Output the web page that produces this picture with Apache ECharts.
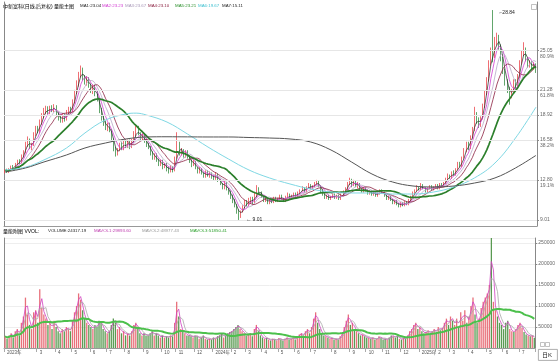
<!DOCTYPE html>
<html><head><meta charset="utf-8">
<script src="https://cdn.jsdelivr.net/npm/echarts@6/dist/echarts.min.js"></script>
<style>html,body{margin:0;padding:0;background:#fff}#c{width:558px;height:361px}</style>
</head><body><div id="c"></div>
<script>
const opens=[13.50,13.75,13.50,13.80,14.10,13.85,14.30,14.60,14.40,15.00,
15.45,16.10,16.60,15.80,16.10,17.00,17.70,17.30,18.20,18.80,
19.20,19.60,19.10,19.70,19.30,19.75,19.00,18.70,18.30,18.95,
18.50,19.10,19.60,19.30,20.10,21.00,21.80,22.70,23.30,22.50,
21.90,22.30,21.80,21.10,21.60,21.00,20.30,19.40,18.70,18.20,
17.60,18.00,17.40,16.50,15.80,15.20,15.60,16.20,15.70,16.30,
16.00,16.50,15.90,16.40,17.10,17.70,17.20,16.60,17.00,16.50,
16.20,15.90,15.40,14.80,15.20,14.70,14.20,14.60,14.00,14.30,
13.80,13.55,14.00,13.70,14.90,16.20,15.20,15.60,15.00,15.40,
14.90,14.60,14.20,14.50,13.90,13.50,13.80,13.40,13.10,13.60,
13.10,13.40,13.00,12.90,13.30,12.80,12.40,12.00,12.50,11.90,
11.60,11.20,10.90,10.40,9.90,9.30,9.80,10.20,10.80,10.40,
10.80,11.00,10.70,11.30,11.90,11.60,11.20,10.80,11.00,10.60,
10.90,10.70,11.10,10.80,11.00,11.30,11.00,10.80,11.20,11.40,
11.10,11.30,11.50,11.20,11.60,11.80,12.00,11.70,12.10,12.30,
12.00,12.20,12.40,12.60,12.20,11.80,11.40,11.10,11.30,11.00,
11.20,11.40,11.10,11.30,11.00,11.40,11.60,11.90,12.40,12.80,
12.30,12.60,12.20,12.40,11.90,11.70,12.00,11.80,11.50,11.70,
11.40,11.60,11.30,11.50,11.80,11.60,11.30,11.00,11.20,10.90,
10.60,10.80,10.50,10.30,10.60,10.40,10.70,10.50,10.90,11.20,
11.50,11.80,12.10,11.90,12.30,12.00,11.70,12.00,12.20,11.90,
12.10,12.30,12.00,12.40,12.20,12.50,12.90,13.20,13.00,13.50,
13.30,13.80,14.30,14.10,14.90,15.60,16.20,15.80,16.90,17.60,
18.70,18.40,17.90,18.60,19.80,21.00,22.30,23.80,27.80,24.50,
25.90,26.30,25.40,24.20,23.10,22.00,21.40,20.60,21.20,22.00,
21.70,22.60,23.90,24.80,25.10,24.20,23.60,23.90,23.40,23.70];
const closes=[13.70,13.55,13.80,14.05,13.90,14.30,14.55,14.40,15.10,15.40,
16.20,16.55,15.90,16.00,17.10,17.60,17.40,18.30,18.90,19.30,
19.50,19.20,19.60,19.40,19.70,19.00,18.60,18.40,18.90,18.50,
19.20,19.50,19.30,20.20,21.10,21.90,22.80,23.20,22.40,22.00,
22.30,21.70,21.20,21.50,20.90,20.40,19.30,18.60,18.10,17.70,
17.90,17.50,16.60,15.70,15.20,15.60,16.10,15.80,16.30,16.00,
16.40,15.90,16.50,17.20,17.60,17.10,16.70,17.00,16.40,16.10,
15.90,15.30,14.90,15.10,14.60,14.30,14.50,14.00,14.20,13.80,
13.60,14.00,13.70,14.80,16.40,15.30,15.50,15.00,15.40,14.90,
14.60,14.20,14.50,13.90,13.60,13.80,13.40,13.10,13.50,13.20,
13.40,13.00,12.90,13.30,12.70,12.40,12.10,12.50,11.90,11.60,
11.20,10.80,10.40,9.90,9.40,9.80,10.30,10.70,10.50,10.90,
11.00,10.70,11.40,11.90,11.60,11.20,10.80,11.00,10.60,10.90,
10.70,11.10,10.80,11.00,11.30,11.00,10.80,11.20,11.40,11.10,
11.30,11.50,11.20,11.60,11.80,12.00,11.70,12.10,12.30,12.00,
12.20,12.50,12.60,12.20,11.70,11.40,11.10,11.30,11.00,11.20,
11.40,11.10,11.30,11.00,11.40,11.60,12.00,12.40,12.80,12.30,
12.60,12.20,12.40,11.90,11.70,12.00,11.80,11.50,11.70,11.40,
11.60,11.30,11.50,11.80,11.60,11.30,11.00,11.20,10.90,10.60,
10.80,10.50,10.30,10.60,10.40,10.70,10.50,10.90,11.20,11.50,
11.80,12.10,11.90,12.30,12.00,11.70,12.00,12.20,11.90,12.10,
12.30,12.00,12.40,12.20,12.50,12.90,13.20,13.00,13.50,13.30,
13.80,14.30,14.10,14.90,15.60,16.20,15.80,16.90,17.60,18.70,
18.40,17.90,18.60,19.80,21.00,22.30,23.80,25.00,24.50,25.90,
26.30,25.40,24.20,23.10,22.00,21.40,20.60,21.20,22.00,21.70,
22.60,23.90,24.80,25.10,24.20,23.60,23.90,23.40,23.70,23.04];
const lows=[13.40,13.45,13.45,13.70,13.80,13.80,14.20,14.30,14.35,14.90,
15.30,15.90,15.70,15.60,16.00,16.90,17.20,17.20,18.00,18.60,
19.00,19.00,19.00,19.20,19.20,18.90,18.40,18.20,18.20,18.30,
18.40,18.90,19.10,19.20,20.00,20.90,21.60,22.50,22.20,21.80,
21.70,21.50,21.00,20.90,20.70,20.20,19.10,18.40,17.90,17.50,
17.40,17.30,16.40,15.50,15.00,15.10,15.50,15.60,15.60,15.80,
15.80,15.70,15.80,16.30,16.90,17.00,16.50,16.50,16.30,15.90,
15.70,15.10,14.70,14.70,14.50,14.10,14.10,13.80,13.90,13.60,
13.40,13.50,13.50,13.60,14.80,15.10,15.10,14.90,14.90,14.80,
14.40,14.00,14.10,13.80,13.40,13.40,13.30,13.00,13.00,13.10,
13.00,12.90,12.70,12.80,12.60,12.30,11.90,11.90,11.80,11.40,
11.00,10.60,10.20,9.60,9.01,9.20,9.70,10.10,10.30,10.30,
10.60,10.50,10.60,11.20,11.40,11.10,10.70,10.70,10.50,10.50,
10.60,10.60,10.70,10.70,10.90,10.90,10.70,10.70,11.10,11.00,
11.00,11.20,11.10,11.10,11.50,11.70,11.60,11.60,12.00,11.90,
11.90,12.10,12.30,12.10,11.60,11.30,11.00,11.00,10.90,10.90,
11.10,11.00,11.00,10.90,10.90,11.30,11.50,11.80,12.30,12.10,
12.20,12.10,12.00,11.80,11.60,11.60,11.70,11.40,11.40,11.30,
11.30,11.20,11.20,11.40,11.50,11.20,10.90,10.90,10.80,10.50,
10.50,10.40,10.20,10.20,10.30,10.30,10.40,10.40,10.80,11.10,
11.40,11.70,11.80,11.80,11.90,11.60,11.60,11.90,11.80,11.80,
12.00,11.90,11.90,12.10,12.10,12.40,12.80,12.90,12.90,13.20,
13.20,13.70,14.00,14.00,14.80,15.40,15.60,15.70,16.70,17.40,
18.10,17.70,17.80,18.50,19.60,20.80,22.10,23.60,23.90,24.30,
25.50,25.10,24.00,22.80,21.70,21.00,19.90,20.50,21.00,21.40,
21.60,22.40,23.70,24.50,24.00,23.40,23.40,23.20,23.20,22.90];
const highs=[13.80,13.85,13.90,14.15,14.20,14.40,14.70,14.75,15.20,15.60,
16.40,16.90,16.70,16.30,17.30,17.90,17.90,18.50,19.10,19.60,
19.80,19.75,19.80,19.85,19.95,19.85,19.20,18.90,19.10,19.10,
19.40,19.70,19.70,20.40,21.30,22.20,23.00,23.60,23.40,22.70,
22.60,22.50,21.90,21.80,21.80,21.20,20.50,19.60,18.90,18.40,
18.20,18.20,17.60,16.70,15.90,15.80,16.30,16.40,16.50,16.50,
16.60,16.60,16.70,17.40,17.90,17.90,17.30,17.20,17.20,16.70,
16.30,16.00,15.50,15.30,15.30,14.80,14.70,14.70,14.40,14.40,
14.00,14.20,14.10,15.00,17.30,16.40,15.80,15.70,15.60,15.60,
15.10,14.70,14.70,14.60,14.00,14.00,13.90,13.50,13.70,13.70,
13.60,13.50,13.20,13.50,13.40,12.90,12.50,12.70,12.60,12.00,
11.80,11.40,11.00,10.50,10.00,9.90,10.40,10.90,10.90,11.10,
11.20,11.20,11.60,12.30,12.10,11.70,11.30,11.20,11.10,11.00,
11.00,11.20,11.20,11.10,11.40,11.40,11.10,11.30,11.60,11.50,
11.40,11.60,11.60,11.70,11.90,12.20,12.10,12.20,12.50,12.40,
12.30,12.60,12.80,12.70,12.30,11.90,11.50,11.40,11.40,11.30,
11.50,11.50,11.40,11.40,11.50,11.80,12.10,12.60,13.00,12.90,
12.80,12.70,12.60,12.50,12.00,12.10,12.10,11.90,11.80,11.80,
11.70,11.70,11.60,11.90,11.90,11.70,11.40,11.30,11.30,11.00,
10.90,10.90,10.60,10.70,10.70,10.80,10.80,11.00,11.30,11.70,
11.90,12.30,12.20,12.50,12.40,12.10,12.10,12.30,12.30,12.20,
12.40,12.40,12.50,12.50,12.60,13.00,13.40,13.30,13.60,13.70,
13.90,14.50,14.50,15.00,15.80,16.40,16.40,17.00,17.80,19.70,
19.20,18.70,18.80,20.00,21.20,22.50,24.10,25.30,28.84,26.30,
26.70,26.50,25.60,24.40,23.30,22.30,21.60,21.40,22.30,22.30,
22.80,24.10,25.00,25.80,25.30,24.30,24.10,24.00,23.90,23.80];
const volumes=[28000,22000,30000,35000,25000,40000,45000,30000,60000,75000,
120000,80000,55000,45000,85000,90000,60000,140000,95000,80000,
70000,55000,60000,45000,65000,50000,40000,35000,45000,40000,
50000,45000,40000,65000,85000,100000,130000,115000,90000,70000,
60000,55000,50000,45000,55000,50000,65000,60000,45000,40000,
35000,40000,55000,70000,60000,45000,50000,35000,40000,30000,
35000,30000,40000,55000,60000,45000,35000,30000,35000,30000,
30000,35000,40000,30000,35000,30000,25000,30000,25000,28000,
25000,30000,28000,60000,110000,75000,45000,40000,35000,30000,
30000,28000,25000,30000,28000,22000,25000,30000,22000,20000,
22000,20000,25000,22000,28000,30000,35000,25000,30000,35000,
38000,40000,45000,50000,55000,45000,40000,35000,30000,32000,
35000,28000,45000,55000,40000,30000,25000,22000,24000,20000,
18000,22000,20000,18000,24000,20000,18000,22000,25000,20000,
22000,25000,20000,28000,32000,35000,30000,40000,45000,35000,
50000,70000,85000,60000,45000,35000,30000,28000,25000,22000,
24000,20000,22000,20000,28000,35000,50000,65000,80000,55000,
60000,45000,40000,35000,30000,32000,28000,25000,24000,22000,
25000,20000,22000,28000,24000,20000,22000,20000,25000,30000,
28000,25000,30000,22000,20000,24000,22000,30000,40000,45000,
55000,60000,45000,50000,40000,35000,38000,42000,35000,40000,
45000,38000,50000,42000,48000,60000,70000,55000,75000,65000,
55000,70000,50000,85000,65000,90000,60000,75000,100000,120000,
80000,60000,70000,95000,110000,120000,130000,150000,262000,110000,
90000,75000,60000,55000,45000,60000,65000,45000,40000,38000,
45000,55000,60000,48000,38000,32000,30000,28000,30000,24317];
const monthLabels=['2023年','2','3','4','5','6','7','8','9','10','11','12','2024年','2','3','4','5','6','7','8','9','10','11','12','2025年','2','3','4','5','6','7'];
const monthStarts=[0,7,16,25,33,42,50,59,68,77,84,93,102,111,118,126,134,142,150,160,169,177,185,194,203,211,218,227,236,244,252];
// short MAs (MA1..MA5) computed from closes, periods in candles
const maPeriods=[3,5,8,12,25];
// long MAs (candle index, value)
const ma6Idx=[0,10,19,30,39,49,59,64,69,79,89,99,109,119,129,139,149,159,169,179,189,199,209,219,229,239,249,259];
const ma6Vals=[13.73,14.00,14.68,15.81,17.23,18.45,19.02,19.10,18.92,18.26,17.13,15.90,14.77,13.73,12.98,12.41,11.94,11.65,11.56,11.56,11.46,11.46,11.65,12.13,12.98,14.39,16.75,19.67];
const ma7Idx=[0,10,19,30,39,49,59,69,79,89,99,109,119,129,139,149,159,169,179,189,199,209,219,229,239,249,259];
const ma7Vals=[13.54,13.92,14.49,15.15,15.81,16.28,16.66,16.85,16.87,16.86,16.85,16.85,16.80,16.75,16.66,16.38,15.62,14.49,13.35,12.60,12.22,12.13,12.22,12.50,12.98,13.92,15.11];
const maNames=['MA1:23.04','MA2:23.23','MA3:23.67','MA4:23.10','MA5:23.21','MA6:19.67','MA7:15.11'];
const volMaPeriods=[2,4,25];
const volNames=['VOLUME:24317.19','MAVOL1:29893.60','MAVOL2:48977.43','MAVOL3:51850.41'];
const fibLevels=[25.05,21.28,18.92,16.58,12.80,9.01];
const fibPct=['80.9%','61.8%','','38.2%','19.1%',''];

const maColors=['#222222','#d23cd2','#b8a8c8','#8b2040','#2b7f2b','#7fd8e4','#555555'];
const maWidths=[0.7,0.8,0.8,0.8,1.7,1,1];
const volMaColors=['#d040c0','#a8a8a8','#4cc04c'];
const volMaWidths=[0.8,0.8,2];
const UP='#ec4a50', DOWN='#3a8f46';
const FONT="'Liberation Sans','Noto Sans CJK SC',sans-serif";

function ma(arr,n){return arr.map((_,i)=>{const s=Math.max(0,i-n+1);let t=0;for(let k=s;k<=i;k++)t+=arr[k];return +(t/(i-s+1)).toFixed(3);});}
function sparse(idx,vals){const a=closes.map(()=>null);idx.forEach((ix,k)=>{a[ix]=vals[k];});return a;}
const cats=closes.map((_,i)=>String(i));
const monthMap=new Map(monthStarts.map((s,k)=>[s,monthLabels[k]]));
const candle=closes.map((c,i)=>[opens[i],c,lows[i],highs[i]]);
const hi=Math.max(...highs), hiIdx=highs.indexOf(hi);
const lo=Math.min(...lows), loIdx=lows.indexOf(lo);

const series=[{
  type:'candlestick',xAxisIndex:0,yAxisIndex:0,data:candle,barWidth:1.3,
  itemStyle:{color:UP,color0:DOWN,borderColor:UP,borderColor0:DOWN,borderWidth:0.8},
  markLine:{silent:true,symbol:['none','none'],label:{show:false},lineStyle:{color:'#e6e6e6',width:1,type:'solid'},
    data:fibLevels.map(v=>({yAxis:v}))},
  markPoint:{symbol:'rect',symbolSize:1,itemStyle:{color:'rgba(0,0,0,0)'},
    data:[{coord:[hiIdx,hi],value:hi,label:{formatter:'⌐'+hi.toFixed(2),offset:[1,3]}},
          {coord:[loIdx,lo],value:lo,label:{formatter:'← '+lo.toFixed(2),offset:[2,0]}}],
    label:{show:true,position:'right',fontSize:5,color:'#222',fontFamily:FONT}}
}];
maPeriods.forEach((p,k)=>series.push({type:'line',xAxisIndex:0,yAxisIndex:0,data:ma(closes,p),showSymbol:false,
  lineStyle:{color:maColors[k],width:maWidths[k]},z:3}));
[[ma6Idx,ma6Vals],[ma7Idx,ma7Vals]].forEach(([ix,vs],j)=>series.push({type:'line',xAxisIndex:0,yAxisIndex:0,data:sparse(ix,vs),
  connectNulls:true,smooth:0.4,showSymbol:false,lineStyle:{color:maColors[5+j],width:maWidths[5+j]},z:3}));
series.push({type:'bar',xAxisIndex:1,yAxisIndex:1,barWidth:1.3,
  data:volumes.map((v,i)=>({value:v,itemStyle:{color:closes[i]>=opens[i]?'#e8707a':'#5a9a52'}}))});
volMaPeriods.forEach((p,k)=>series.push({type:'line',xAxisIndex:1,yAxisIndex:1,data:ma(volumes,p),showSymbol:false,
  lineStyle:{color:volMaColors[k],width:volMaWidths[k]},z:3}));

const titleX=[3,80,102,125,148,175,198,222];
const titleTexts=['中新富科(日线,后复权) 量能主图'].concat(maNames);
const titleColors=['#000'].concat(['#222','#d23cd2','#a898b8','#8b2040','#2b8f2b','#40c0d0','#222']);
const volX=[3,48,94,142,190];
const volTexts=['量能附图 VVOL:'].concat(volNames);
const volColors=['#000','#222','#c040b0','#999','#2ca02c'];
const graphics=[];
titleTexts.forEach((t,k)=>graphics.push({type:'text',left:titleX[k],top:4,style:{text:t,fill:titleColors[k],font:(k===0?'5px ':'4.4px ')+FONT}}));
volTexts.forEach((t,k)=>graphics.push({type:'text',left:volX[k],top:229,style:{text:t,fill:volColors[k],font:(k===0?'5px ':'4.4px ')+FONT}}));
graphics.push({type:'rect',left:529,top:2,shape:{width:5,height:5},style:{fill:'none',stroke:'#999',lineWidth:0.6}});
graphics.push({type:'rect',left:538,top:340,shape:{width:4,height:4},style:{fill:'none',stroke:'#999',lineWidth:0.6}});
graphics.push({type:'rect',left:543,top:340,shape:{width:4,height:4},style:{fill:'none',stroke:'#999',lineWidth:0.6}});
graphics.push({type:'rect',left:538,top:349,shape:{width:19,height:11},style:{fill:'#fff',stroke:'#999',lineWidth:0.8}});
graphics.push({type:'text',left:542,top:352,style:{text:'日K',fill:'#222',font:'6px '+FONT}});

const mainMin=8.44, mainMax=29.6;
const option={
  animation:false,backgroundColor:'#fff',
  grid:[{left:4,right:21,top:2,height:224},{left:4,right:21,top:238,height:110}],
  xAxis:[
    {type:'category',gridIndex:0,data:cats,boundaryGap:true,axisLine:{show:true,lineStyle:{color:'#999'}},axisTick:{show:false},axisLabel:{show:false},splitLine:{show:false}},
    {type:'category',gridIndex:1,data:cats,boundaryGap:true,axisLine:{show:true,lineStyle:{color:'#999'}},
      axisTick:{show:true,interval:(i)=>monthMap.has(i),length:4,lineStyle:{color:'#aaa'}},
      axisLabel:{interval:(i)=>monthMap.has(i),showMinLabel:true,formatter:(v)=>monthMap.get(+v)||'',fontSize:4.5,color:'#555',fontFamily:FONT,align:'left',margin:3,padding:[0,0,0,2]},
      splitLine:{show:false}}
  ],
  yAxis:[
    {type:'value',gridIndex:0,position:'right',min:mainMin,max:mainMax,splitLine:{show:false},
      axisLine:{show:true,lineStyle:{color:'#888'}},
      axisTick:{show:true,customValues:fibLevels,length:2,lineStyle:{color:'#888'}},
      axisLabel:{customValues:fibLevels,fontSize:5,color:'#666',fontFamily:FONT,margin:3,verticalAlign:'top',lineHeight:6,padding:[-3,0,0,0],
        formatter:(v)=>{const k=fibLevels.findIndex(f=>Math.abs(f-v)<1e-6);const p=k>=0?fibPct[k]:'';return p?v.toFixed(2)+'\n'+p:v.toFixed(2);}}},
    {type:'value',gridIndex:1,position:'right',min:0,max:'dataMax',interval:50000,
      splitLine:{show:true,lineStyle:{color:'#eeeeee'}},axisLine:{show:true,lineStyle:{color:'#888'}},
      axisTick:{show:true,length:2,lineStyle:{color:'#888'}},
      axisLabel:{fontSize:5,color:'#666',fontFamily:FONT,margin:3,showMinLabel:false,showMaxLabel:false,formatter:(v)=>String(v)}},
    {type:'value',gridIndex:0,position:'left',min:mainMin,max:mainMax,axisLine:{show:true,lineStyle:{color:'#888'}},axisTick:{show:false},axisLabel:{show:false},splitLine:{show:false}},
    {type:'value',gridIndex:1,position:'left',min:0,max:'dataMax',axisLine:{show:true,lineStyle:{color:'#888'}},axisTick:{show:false},axisLabel:{show:false},splitLine:{show:false}}
  ],
  graphic:graphics,
  series:series
};
const chart=echarts.init(document.getElementById('c'),null,{renderer:'canvas'});
chart.setOption(option);
</script></body></html>
